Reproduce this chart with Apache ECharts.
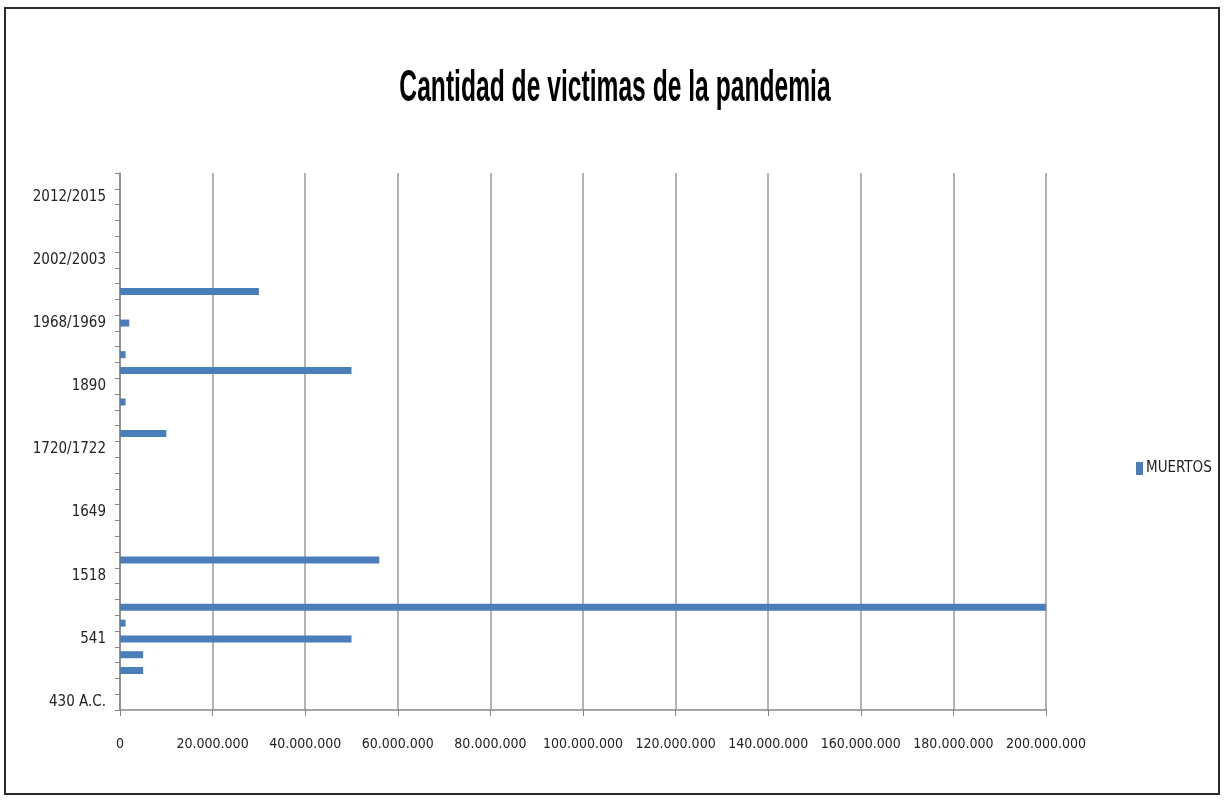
<!DOCTYPE html>
<html>
<head>
<meta charset="utf-8">
<script src="https://cdn.jsdelivr.net/npm/echarts@6/dist/echarts.min.js"></script>
<style>
html,body{margin:0;padding:0;background:#fff;}
#chart{width:1225px;height:800px;}
</style>
</head>
<body>
<div id="chart"></div>
<script>
// Categories (bottom to top); only every 4th label is shown on the axis
var categories = [
  "430 A.C.", "165", "165/180", "250/271", "541", "735/737", "1347/1351", "1492",
  "1518", "1520", "1545/1548", "1576", "1649", "1656", "1665", "1700",
  "1720/1722", "1817/1923", "1855", "1889/1890", "1890", "1918/1919", "1957/1958", "1961",
  "1968/1969", "1974", "1981", "1993", "2002/2003", "2009/2010", "2011", "2014",
  "2012/2015", "2019"
];
// MUERTOS (number of deaths)
var muertos = [
  0, 0, 5000000, 5000000, 50000000, 1200000, 200000000, 0,
  0, 56000000, 0, 0, 0, 0, 0, 0,
  0, 10000000, 0, 1200000, 0, 50000000, 1200000, 0,
  2000000, 0, 30000000, 0, 0, 0, 0, 0,
  0, 0
];
var seriesName = "MUERTOS";
var titleText = "Cantidad de victimas de la pandemia";
var xMax = 200000000;
var xStep = 20000000;

function fmt(v){
  return String(v).replace(/\B(?=(\d{3})+(?!\d))/g, ".");
}

var chart = echarts.init(document.getElementById('chart'), null, {renderer:'canvas'});
var FONT = '"DejaVu Sans Condensed", "Liberation Sans Narrow", "Liberation Sans", Arial, sans-serif';
var TFONT = '"Liberation Sans", Arial, sans-serif';
chart.setOption({
  backgroundColor: '#ffffff',
  animation: false,
  legend: {
    data: [seriesName],
    left: 1131,
    top: 456,
    itemWidth: 7,
    itemHeight: 13,
    itemGap: 4,
    icon: 'rect',
    textStyle: {fontFamily: FONT, fontSize: 15, color: '#222', padding: [0,0,0,-2]}
  },
  grid: {left: 120, right: 179, top: 173, bottom: 90, containLabel: false},
  xAxis: {
    type: 'value',
    min: 0,
    max: xMax,
    interval: xStep,
    axisLine: {show: true, lineStyle: {color: '#868686', width: 1.5}},
    axisTick: {show: true, length: 6, inside: false, lineStyle: {color: '#868686'}},
    splitLine: {show: true, lineStyle: {color: '#9a9a9a', width: 1.5}},
    axisLabel: {
      fontFamily: FONT, fontSize: 14, color: '#222', margin: 27,
      formatter: function(v){ return fmt(v); }
    }
  },
  yAxis: {
    type: 'category',
    data: categories,
    axisLine: {show: true, lineStyle: {color: '#868686', width: 1.5}},
    axisTick: {show: true, interval: 0, length: 5, lineStyle: {color: '#868686'}},
    axisLabel: {interval: 3, fontFamily: FONT, fontSize: 15, color: '#222', margin: 14, padding: [6,0,0,0]},
    splitLine: {show: false}
  },
  series: [{
    name: seriesName,
    type: 'bar',
    data: muertos,
    barWidth: 7,
    itemStyle: {color: '#4A7EBB'}
  }],
  graphic: [{
    type: 'text',
    x: 615,
    y: 89,
    scaleX: 0.56,
    scaleY: 1,
    style: {
      text: titleText,
      fontFamily: TFONT,
      fontWeight: 'bold',
      fontSize: 44,
      fill: '#000',
      align: 'center',
      verticalAlign: 'middle'
    },
    silent: true
  }, {
    type: 'rect',
    shape: {x: 5, y: 8, width: 1214, height: 786},
    style: {fill: 'none', stroke: '#2b2b2b', lineWidth: 2},
    silent: true
  }]
});
</script>
</body>
</html>
